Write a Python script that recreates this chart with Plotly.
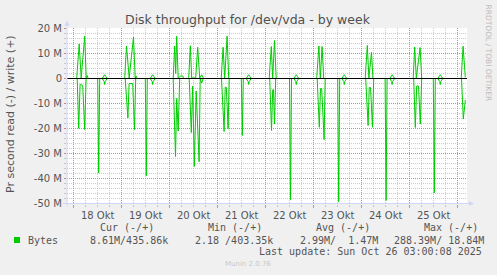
import pandas as pd
import plotly.graph_objects as go

# ---- data (hours after 2025-10-18 00:00, values in MB/s) ----
write_hours = [-3.5,
    1.5, 2.75, 3.75, 5.5, 6.25, 6.75, 7.25,
    14.25, 15.5, 16.75,
    25.5, 26.4, 27.75, 29.9, 30.75, 31.25, 31.75,
    38.25, 39.5, 40.75,
    49.75, 50.5, 51.0, 51.5, 52.25, 53.5, 54.5, 55.0,
    57.5, 58.3, 59.0, 61.0, 62.0, 63.0, 64.0, 65.0,
    73.75, 74.7, 75.5, 76.7, 77.5, 78.0,
    86.25, 87.5, 88.75,
    97.75, 98.8, 99.5, 100.4, 101.25, 101.75,
    110.0, 111.3, 112.5,
    121.5, 122.6, 123.3, 124.2, 125.0, 125.5,
    134.0, 135.3, 136.5,
    145.75, 146.8, 147.6, 148.9, 149.6, 150.0,
    158.0, 159.2, 160.5,
    169.75, 170.5, 171.3, 173.2, 174.0, 174.5,
    182.0, 183.3, 184.5,
    193.75, 194.7, 195.8]
write_mb = [0.0,
    0.0, 13.8, 0.2, 16.9, 0.2, 1.2, 0.0,
    0.0, 1.5, 0.0,
    0.0, 13.0, 0.2, 16.6, 0.2, 1.0, 0.0,
    0.0, 1.5, 0.0,
    0.0, 13.0, 2.0, 16.9, 0.2, 1.0, 1.0, 0.0,
    0.0, 13.1, 0.2, 0.2, 12.5, 0.2, 1.5, 0.0,
    0.0, 12.5, 0.2, 16.9, 0.2, 0.0,
    0.0, 1.5, 0.0,
    0.0, 12.8, 0.2, 15.2, 0.2, 0.0,
    0.0, 1.5, 0.0,
    0.0, 13.0, 0.2, 12.8, 0.2, 0.0,
    0.0, 1.5, 0.0,
    0.0, 13.2, 0.2, 10.5, 0.2, 0.0,
    0.0, 1.5, 0.0,
    0.0, 12.6, 0.2, 12.4, 0.2, 0.0,
    0.0, 1.5, 0.0,
    0.0, 12.9, 0.44]

read_hours = [-3.5,
    1.75, 2.5, 3.2, 4.5, 5.5, 6.2,
    12.0, 12.5, 13.0,
    14.25, 15.25, 15.5, 15.75, 16.75,
    25.75, 27.1, 27.7, 29.5, 30.4, 31.0,
    35.8, 36.3, 36.8,
    38.25, 39.25, 39.5, 39.75, 40.75,
    49.75, 50.9, 51.5, 52.25, 53.0,
    57.75, 58.8, 59.5, 60.3, 61.25, 62.7, 63.25, 64.0, 64.75,
    73.9, 75.2, 75.75, 76.3, 77.2, 77.75,
    83.8, 84.3, 84.8,
    86.25, 87.25, 87.5, 87.75, 88.75,
    98.0, 98.9, 99.5, 99.9, 100.4, 101.0,
    107.9, 108.4, 108.9,
    110.0, 111.05, 111.3, 111.55, 112.5,
    121.75, 122.8, 123.4, 124.0, 125.2, 125.75,
    132.0, 132.5, 133.0,
    134.0, 135.05, 135.3, 135.55, 136.5,
    146.0, 147.2, 147.75, 148.4, 149.4, 150.0,
    155.7, 156.2, 156.7,
    158.0, 158.95, 159.2, 159.45, 160.5,
    170.0, 170.8, 171.5, 172.4, 173.3, 174.0,
    179.8, 180.3, 180.8,
    182.0, 183.05, 183.3, 183.55, 184.5,
    193.9, 194.8, 195.8]
read_mb = [0.0,
    0.0, -19.9, -2.3, -2.8, -20.4, 0.0,
    0.0, -37.8, 0.0,
    0.0, -1.2, -2.4, -1.2, 0.0,
    0.0, -15.8, -2.0, -2.0, -20.4, 0.0,
    0.0, -38.9, 0.0,
    0.0, -1.2, -2.4, -1.2, 0.0,
    0.0, -31.2, -8.0, -21.0, 0.0,
    0.0, -21.6, -3.0, -35.2, -5.0, -33.3, 0.0, -1.8, 0.0,
    0.0, -21.2, -3.5, -3.5, -20.1, 0.0,
    0.0, -22.8, 0.0,
    0.0, -1.2, -2.4, -1.2, 0.0,
    0.0, -20.8, -4.5, -4.5, -18.2, 0.0,
    0.0, -48.5, 0.0,
    0.0, -1.2, -2.4, -1.2, 0.0,
    0.0, -19.5, -4.0, -4.0, -24.4, 0.0,
    0.0, -49.3, 0.0,
    0.0, -1.2, -2.4, -1.2, 0.0,
    0.0, -18.8, -3.6, -3.6, -19.5, 0.0,
    0.0, -48.8, 0.0,
    0.0, -1.2, -2.4, -1.2, 0.0,
    0.0, -19.6, -3.0, -3.0, -18.2, 0.0,
    0.0, -45.8, 0.0,
    0.0, -1.2, -2.4, -1.2, 0.0,
    0.0, -16.2, -8.61]

day_labels = ["18 Okt", "19 Okt", "20 Okt", "21 Okt", "22 Okt", "23 Okt", "24 Okt", "25 Okt"]
ytick_vals = [20, 10, 0, -10, -20, -30, -40, -50]
ytick_text = ["20 M", "10 M", "0", "-10 M", "-20 M", "-30 M", "-40 M", "-50 M"]

legend_headers = ["Cur (-/+)", "Min (-/+)", "Avg (-/+)", "Max (-/+)"]
legend_values = ["8.61M/435.86k", "2.18 /403.35k", "2.99M/  1.47M", "288.39M/ 18.84M"]
series_name = "Bytes"
title_text = "Disk throughput for /dev/vda - by week"
ylabel_text = "Pr second read (-) / write (+)"
update_text = "Last update: Sun Oct 26 03:00:08 2025"

# ---- figure ----
base = pd.Timestamp("2025-10-18 00:00")
def t(hours):
    return base + pd.to_timedelta(pd.Series(hours, dtype=float), unit="h")

GREEN = "#00CC00"
W, H = 497, 275
L, R, T, B = 67, 30, 28, 71
PW, PH = W - L - R, H - T - B

def px(x):
    return (x - L) / PW

def py(y):
    return (H - B - y) / PH

fig = go.Figure()
fig.add_trace(go.Scatter(x=t(read_hours), y=[v * 1e6 for v in read_mb], mode="lines",
                         line=dict(color=GREEN, width=1), showlegend=False, hoverinfo="skip"))
fig.add_trace(go.Scatter(x=t(write_hours), y=[v * 1e6 for v in write_mb], mode="lines",
                         line=dict(color=GREEN, width=1), showlegend=False, hoverinfo="skip"))

x_start = base - pd.Timedelta(hours=3.35)
x_end = base + pd.Timedelta(hours=196.65)
midnights = [base + pd.Timedelta(days=i) for i in range(9)]
noons = [base + pd.Timedelta(hours=12 + 24 * i) for i in range(len(day_labels))]

MGRID = "rgba(222,79,79,0.55)"
GRID = "rgba(143,143,143,0.45)"
FONT_C = "#555555"

fig.update_layout(
    width=W, height=H, margin=dict(l=L, r=R, t=T, b=B),
    paper_bgcolor="#F0F0F0", plot_bgcolor="#FFFFFF",
    font=dict(family="DejaVu Sans", size=10, color=FONT_C),
    showlegend=False,
    xaxis=dict(type="date", range=[x_start, x_end], tickmode="array", tickvals=midnights,
               ticktext=[""] * len(midnights), showgrid=True, gridcolor=MGRID, griddash="1px,1px",
               gridwidth=1, ticks="outside", ticklen=3, tickcolor=MGRID, showline=False,
               zeroline=False, fixedrange=True,
               minor=dict(dtick=6 * 3600 * 1000, tick0=base, showgrid=True, gridcolor=GRID,
                          griddash="1px,1px", ticks="outside", ticklen=2, tickcolor=GRID)),
    xaxis2=dict(type="date", overlaying="x", anchor="y", side="bottom", matches="x",
                tickmode="array", tickvals=noons, ticktext=day_labels, showgrid=False,
                ticks="outside", ticklen=2, tickcolor="rgba(0,0,0,0)", showline=False, zeroline=False,
                tickfont=dict(family="DejaVu Sans", size=10, color=FONT_C)),
    yaxis=dict(range=[-50.2e6, 20.2e6], tickmode="array", tickvals=[v * 1e6 for v in ytick_vals],
               ticktext=ytick_text, showgrid=True, gridcolor=MGRID, griddash="1px,1px",
               ticks="outside", ticklen=2, tickcolor=MGRID, zeroline=False, showline=False,
               tickfont=dict(family="DejaVu Sans", size=10, color=FONT_C),
               minor=dict(dtick=2e6, tick0=0, showgrid=True, gridcolor=GRID, griddash="1px,1px",
                          ticks="outside", ticklen=2, tickcolor=GRID)),
)
# invisible trace to activate xaxis2
fig.add_trace(go.Scatter(x=[x_start], y=[0], xaxis="x2", mode="markers",
                         marker=dict(opacity=0), showlegend=False, hoverinfo="skip"))

AX = "#CFD6F8"
shapes = [
    # zero line
    dict(type="line", xref="paper", yref="y", x0=0, x1=1, y0=0, y1=0,
         line=dict(color="#000000", width=1), layer="above"),
    # axes
    dict(type="line", xref="paper", yref="paper", x0=0, x1=0, y0=py(206), y1=py(24),
         line=dict(color=AX, width=1), layer="above"),
    dict(type="line", xref="paper", yref="paper", x0=px(63), x1=px(470), y0=py(203.5), y1=py(203.5),
         line=dict(color=AX, width=1), layer="above"),
    dict(type="path", xref="paper", yref="paper",
         path=f"M {px(64.5)} {py(25.5)} L {px(67)} {py(20.5)} L {px(69.5)} {py(25.5)} Z",
         fillcolor=AX, line=dict(color=AX, width=0), layer="above"),
    dict(type="path", xref="paper", yref="paper",
         path=f"M {px(469)} {py(201)} L {px(474)} {py(203.5)} L {px(469)} {py(206)} Z",
         fillcolor=AX, line=dict(color=AX, width=0), layer="above"),
    # legend square
    dict(type="rect", xref="paper", yref="paper", x0=px(14), x1=px(20), y0=py(243), y1=py(237),
         fillcolor=GREEN, line=dict(width=0)),
]
fig.update_layout(shapes=shapes)

MONO = "DejaVu Sans Mono"
NB = "\u00a0"
ann = []
def add(text, x, y, size=10, color=FONT_C, family="DejaVu Sans", xanchor="left", angle=0):
    ann.append(dict(text=text.replace(" ", NB), x=px(x), y=py(y), xref="paper", yref="paper",
                    xanchor=xanchor, yanchor="middle", showarrow=False, borderpad=0,
                    textangle=angle, font=dict(family=family, size=size, color=color)))

add(title_text, 248, 19, size=12.5, color="#505050", xanchor="center")
add(ylabel_text, 10, 114, size=11, xanchor="center", angle=-90)
add("RRDTOOL / TOBI OETIKER", 488.5, 53, size=7.5, color="#BBBBBB", xanchor="center", angle=90)
for hdr, xl in zip(legend_headers, [98.7, 206.7, 315, 422.7]):
    add(hdr, xl, 227.3, family=MONO)
add(series_name, 26.7, 240, family=MONO)
for val, xl in zip(legend_values, [89, 194.3, 299.3, 392.7]):
    add(val, xl, 240, family=MONO)
add(update_text, 482.7, 251.7, family=MONO, xanchor="right")
add("Munin 2.0.76", 248, 264, size=7, color="#C8C8C8", xanchor="center")
fig.update_layout(annotations=ann)

fig.write_html("out.html")
